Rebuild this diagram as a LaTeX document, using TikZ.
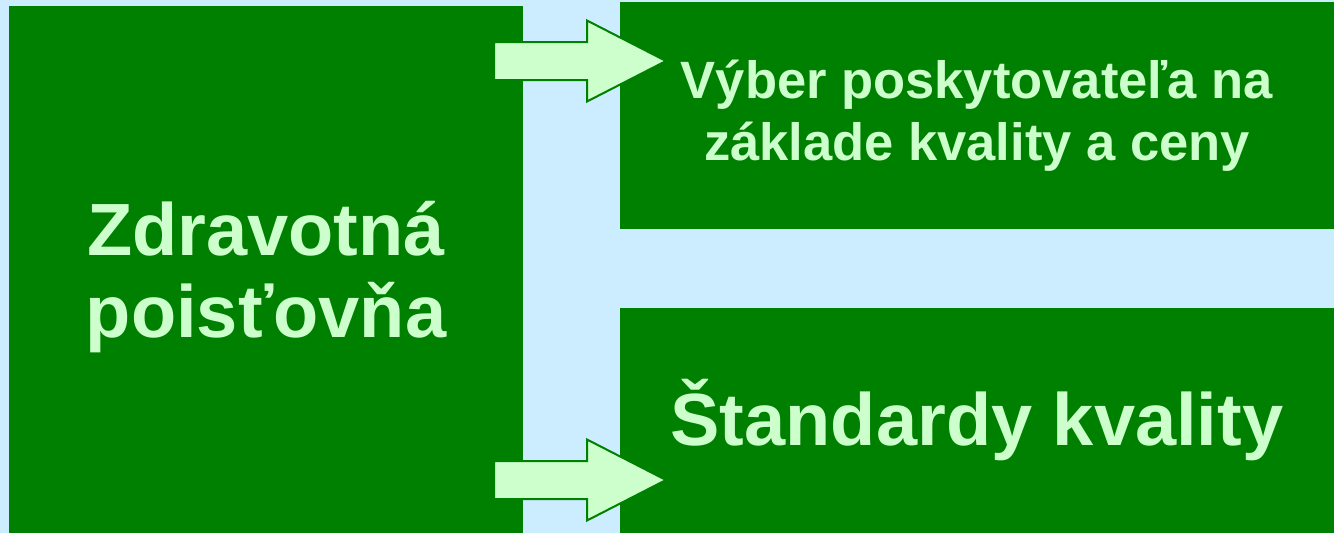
\documentclass[tikz,border=0pt]{standalone}
\usepackage{fontspec}
\setmainfont{Liberation Sans}
\definecolor{pozadie}{HTML}{CCECFF}
\definecolor{zelena}{HTML}{008000}
\definecolor{svetla}{HTML}{CCFFCC}
\tikzset{
  blok/.style={fill=zelena, draw=none, inner sep=0pt, outer sep=0pt,
    text=svetla, align=center},
  sipka/.style={fill=svetla, draw=zelena, line width=2pt, line join=miter},
}
\begin{document}
\begin{tikzpicture}[x=1pt, y=-1pt]
            \def\W{1334} \def\H{533}
            \def\sx{494} \def\hx{587} \def\tx{666}
            \fill[pozadie] (0,0) rectangle (\W,\H);
            \useasboundingbox (0,0) rectangle (\W,\H);
            \node[blok, minimum width=514pt, minimum height=527pt,
              text depth=0pt, font=\fontsize{74}{82}\selectfont\bfseries] (poistovna) at (266,269.5)
              {Zdravotná\\poisťovňa};
            \node[blok, minimum width=714pt, minimum height=227pt,
              font=\fontsize{52.5}{62}\selectfont\bfseries] (vyber) at (977,115.5)
              {Výber poskytovateľa na\\základe kvality a ceny};
            \node[blok, minimum width=714pt, minimum height=225pt,
              font=\fontsize{74}{82}\selectfont\bfseries] (standardy) at (977,420.5)
              {Štandardy kvality};
            \foreach \yy in {61,480}
              \draw[sipka] (\sx,\yy-19) -- (\hx,\yy-19) -- (\hx,\yy-40.5) -- (\tx,\yy)
                -- (\hx,\yy+40.5) -- (\hx,\yy+19) -- (\sx,\yy+19) -- cycle;
        \end{tikzpicture}
\end{document}
